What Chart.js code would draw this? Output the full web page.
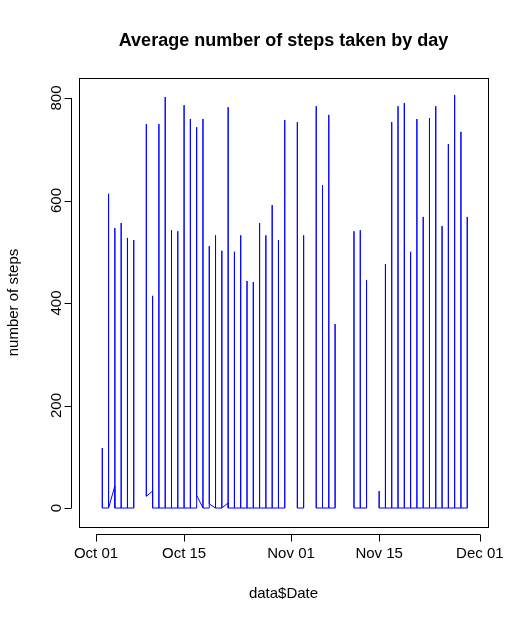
<!DOCTYPE html>
<html>
<head>
<meta charset="utf-8">
<script src="https://cdn.jsdelivr.net/npm/chart.js@4"></script>
<style>
  html, body { margin: 0; padding: 0; background: #fff; }
  #wrap { width: 528px; height: 623px; }
</style>
</head>
<body>
<div id="wrap"><canvas id="stepsChart"></canvas></div>
<script>
// day number = days since Oct 01 (Oct 02 = 1); null marks a day with no data
const days = [1,2,3,4,5,6,7,8,9,10,11,12,13,14,15,16,17,18,19,20,21,22,23,24,25,26,27,28,29,30,31,32,33,34,35,36,37,38,39,40,41,42,43,44,45,46,47,48,49,50,51,52,53,54,55,56,57,58,59,60];
const peaks = [117,613,546,556,527,523,null,749,414,749,802,542,540,786,759,743,759,511,532,502,782,500,532,443,441,556,532,591,523,757,null,753,532,null,784,630,767,359,null,null,540,542,445,null,33,476,753,784,790,500,759,568,761,784,550,710,806,734,568,null];
const starts = [0,0,43,0,0,0,null,23,33,0,0,0,0,0,0,0,0,0,0,0,10,0,0,0,0,0,0,0,0,0,null,0,0,null,0,0,0,0,null,null,0,0,0,null,0,0,0,0,0,0,0,0,0,0,0,0,0,0,0,null];
const ends = [0,0,0,0,0,0,null,23,0,0,0,0,0,0,0,25,0,8,0,0,0,0,0,0,0,0,0,0,0,0,null,0,0,null,0,0,0,0,null,null,0,0,0,null,0,0,0,0,0,0,0,0,0,0,0,0,0,0,0,null];
const xTicks = [0, 14, 31, 45, 61];
const xTickLabels = ["Oct 01", "Oct 15", "Nov 01", "Nov 15", "Dec 01"];
const yTicks = [0, 200, 400, 600, 800];

const points = [];
days.forEach((d, i) => {
  if (peaks[i] === null) {
    points.push({ x: d, y: null });
    return;
  }
  points.push({ x: d, y: starts[i] });
  points.push({ x: d, y: peaks[i] });
  points.push({ x: d, y: ends[i] });
});

const rAxes = {
  id: "rAxes",
  afterDraw(chart) {
    const ctx = chart.ctx;
    const a = chart.chartArea;
    const xs = chart.scales.x, ys = chart.scales.y;
    ctx.save();
    ctx.strokeStyle = "#000";
    ctx.lineWidth = 1;
    ctx.strokeRect(a.left + 0.5, a.top + 0.5, a.right - a.left, a.bottom - a.top);
    ctx.fillStyle = "#000";
    ctx.font = "15px 'Liberation Sans', Arial, sans-serif";

    // x axis
    const x0 = xs.getPixelForValue(xTicks[0]);
    const x1 = xs.getPixelForValue(xTicks[xTicks.length - 1]);
    const by = a.bottom + 7.5;
    ctx.beginPath();
    ctx.moveTo(x0, by); ctx.lineTo(x1, by);
    xTicks.forEach(t => {
      const px = Math.round(xs.getPixelForValue(t)) + 0.5;
      ctx.moveTo(px, by); ctx.lineTo(px, by + 7);
    });
    ctx.stroke();
    ctx.textAlign = "center";
    ctx.textBaseline = "middle";
    xTicks.forEach((t, i) => ctx.fillText(xTickLabels[i], xs.getPixelForValue(t), a.bottom + 27));

    // y axis
    const lx = a.left - 7.5;
    ctx.beginPath();
    ctx.moveTo(lx, ys.getPixelForValue(yTicks[0]));
    ctx.lineTo(lx, ys.getPixelForValue(yTicks[yTicks.length - 1]));
    yTicks.forEach(t => {
      const py = Math.round(ys.getPixelForValue(t)) + 0.5;
      ctx.moveTo(lx, py); ctx.lineTo(lx - 7, py);
    });
    ctx.stroke();
    yTicks.forEach(t => {
      ctx.save();
      ctx.translate(a.left - 22, ys.getPixelForValue(t));
      ctx.rotate(-Math.PI / 2);
      ctx.fillText(String(t), 0, 0);
      ctx.restore();
    });

    // axis titles
    ctx.fillText("data$Date", (a.left + a.right) / 2, a.bottom + 67);
    ctx.save();
    ctx.translate(14, (a.top + a.bottom) / 2);
    ctx.rotate(-Math.PI / 2);
    ctx.fillText("number of steps", 0, 0);
    ctx.restore();

    ctx.font = "bold 18px 'Liberation Sans', Arial, sans-serif";
    ctx.fillText("Average number of steps taken by day", (a.left + a.right) / 2, 41);
    ctx.restore();
  }
};

new Chart(document.getElementById("stepsChart"), {
  type: "line",
  data: {
    datasets: [{
      data: points,
      borderColor: "#0000ff",
      borderWidth: 1,
      pointRadius: 0,
      tension: 0,
      spanGaps: false,
    }],
  },
  options: {
    responsive: true,
    maintainAspectRatio: false,
    animation: false,
    layout: { padding: { left: 79, right: 40, top: 78, bottom: 96 } },
    plugins: { legend: { display: false }, tooltip: { enabled: false } },
    scales: {
      x: { type: "linear", min: -2.7, max: 62.3, display: false },
      y: { min: -37, max: 839, display: false },
    },
  },
  plugins: [rAxes],
});
</script>
</body>
</html>
